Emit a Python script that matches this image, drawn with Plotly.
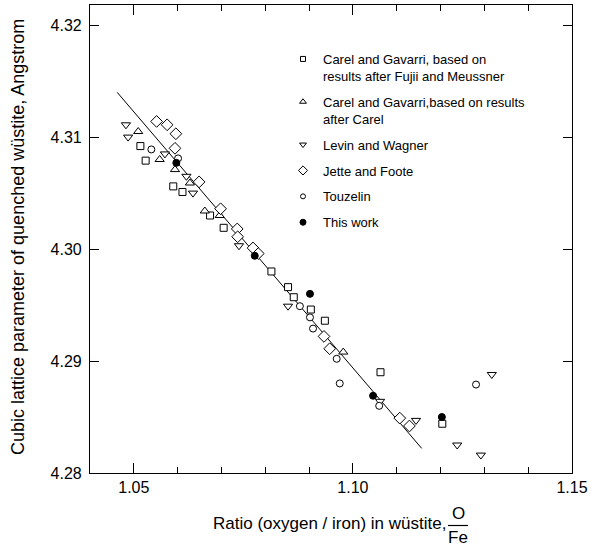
import plotly.graph_objects as go

# --- data ---
sq_x = [1.0515, 1.0527, 1.0590, 1.0611, 1.0674, 1.0705, 1.0814, 1.0852, 1.0865, 1.0904, 1.0936, 1.1063, 1.1204]
sq_y = [4.3092, 4.3079, 4.3056, 4.3051, 4.3030, 4.3019, 4.2980, 4.2966, 4.2957, 4.2946, 4.2936, 4.2890, 4.2844]

up_x = [1.0510, 1.0559, 1.0594, 1.0628, 1.0662, 1.0696, 1.0978]
up_y = [4.3105, 4.3080, 4.3071, 4.3059, 4.3034, 4.3030, 4.2908]

dn_x = [1.0482, 1.0487, 1.0571, 1.0620, 1.0635, 1.0740, 1.0852, 1.1062, 1.1144, 1.1238, 1.1292, 1.1317]
dn_y = [4.3111, 4.3100, 4.3085, 4.3065, 4.3050, 4.3003, 4.2949, 4.2864, 4.2847, 4.2825, 4.2816, 4.2888]

di_x = [1.0552, 1.0576, 1.0596, 1.0594, 1.0649, 1.0698, 1.0736, 1.0737, 1.0772, 1.0784, 1.0934, 1.0947, 1.1107, 1.1129]
di_y = [4.3114, 4.3111, 4.3103, 4.3090, 4.3060, 4.3036, 4.3018, 4.3011, 4.3001, 4.2996, 4.2922, 4.2911, 4.2849, 4.2842]

ci_x = [1.0540, 1.0601, 1.0879, 1.0902, 1.0909, 1.0963, 1.0970, 1.1060, 1.1281]
ci_y = [4.3089, 4.3081, 4.2949, 4.2939, 4.2929, 4.2902, 4.2880, 4.2860, 4.2879]

tw_x = [1.0597, 1.0776, 1.0902, 1.1046, 1.1203]
tw_y = [4.3077, 4.2994, 4.2960, 4.2869, 4.2850]

fit_x = [1.0462, 1.1157]
fit_y = [4.3140, 4.2822]

names = [
    "Carel and Gavarri, based on<br>results after Fujii and Meussner",
    "Carel and Gavarri,based on results<br>after Carel",
    "Levin and Wagner",
    "Jette and Foote",
    "Touzelin",
    "This work",
]

FONT = "Liberation Sans, Arial, Helvetica, sans-serif"

fig = go.Figure()
fig.add_trace(go.Scatter(x=fit_x, y=fit_y, mode="lines", line=dict(color="black", width=1),
                         showlegend=False, hoverinfo="skip"))

series = [
    (sq_x, sq_y, "square", 7, "white", 5),
    (up_x, up_y, "triangle-up", 8, "white", 6),
    (dn_x, dn_y, "triangle-down", 8, "white", 6),
    (di_x, di_y, "diamond", 9, "white", 7),
    (ci_x, ci_y, "circle", 7, "white", 5),
    (tw_x, tw_y, "circle", 7, "black", 6),
]
for i, (xs, ys, sym, sz, fc, lsz) in enumerate(series):
    fig.add_trace(go.Scatter(
        x=xs, y=ys, mode="markers", showlegend=False,
        marker=dict(symbol=sym, size=sz, color=fc, line=dict(color="black", width=1)),
    ))
# legend entries (smaller symbols, as in the reference key)
for i, ((xs, ys, sym, sz, fc, lsz), nm) in enumerate(zip(series, names)):
    fig.add_trace(go.Scatter(
        x=[None], y=[None], mode="markers", name=nm, legendgroup=f"g{i}",
        marker=dict(symbol=sym, size=lsz, color=fc, line=dict(color="black", width=1)),
    ))

axis_common = dict(showline=True, linecolor="black", linewidth=1.2, mirror="ticks",
                   ticks="inside", tickcolor="black", showgrid=False, zeroline=False,
                   tickfont=dict(size=16, color="black", family=FONT))

fig.update_xaxes(range=[1.04, 1.15], dtick=0.05, tick0=1.05, ticklen=10, tickformat=".2f",
                 minor=dict(dtick=0.01, tick0=1.0, ticks="inside", ticklen=6, tickcolor="black", showgrid=False),
                 **axis_common)
fig.update_yaxes(range=[4.28, 4.3218], dtick=0.01, tick0=4.28, ticklen=9, tickformat=".2f",
                 ticklabelstandoff=4, **axis_common)

W, H = 595, 547
L, R, T, B = 90, 23, 5, 74
pw, ph = W - L - R, H - T - B
def px(x):
    return (x - L) / pw
def py(y):
    return (H - B - y) / ph

ann = [
    dict(text="Cubic lattice parameter of quenched wüstite, Angstrom", textangle=-90,
         x=px(18), y=py(237), xanchor="center", yanchor="middle", font=dict(size=18)),
    dict(text="Ratio (oxygen / iron) in wüstite,", x=px(448), y=py(523),
         xanchor="right", yanchor="middle", font=dict(size=17)),
    dict(text="O", x=px(458), y=py(513), xanchor="center", yanchor="middle", font=dict(size=17)),
    dict(text="Fe", x=px(458), y=py(537), xanchor="center", yanchor="middle", font=dict(size=17)),
]
for a in ann:
    a.update(xref="paper", yref="paper", showarrow=False)
    a["font"].update(family=FONT, color="black")

fig.update_layout(
    width=W, height=H,
    margin=dict(l=L, r=R, t=T, b=B, pad=0),
    paper_bgcolor="white", plot_bgcolor="white",
    font=dict(family=FONT, color="black"),
    annotations=ann,
    shapes=[dict(type="line", xref="paper", yref="paper", x0=px(448), x1=px(468),
                 y0=py(525.5), y1=py(525.5), line=dict(color="black", width=1.2))],
    legend=dict(x=px(283), y=py(44), xanchor="left", yanchor="top",
                bgcolor="rgba(0,0,0,0)", borderwidth=0, valign="top",
                font=dict(size=13, family=FONT, color="black"),
                tracegroupgap=6, itemsizing="trace"),
)

fig.write_html("out.html")
